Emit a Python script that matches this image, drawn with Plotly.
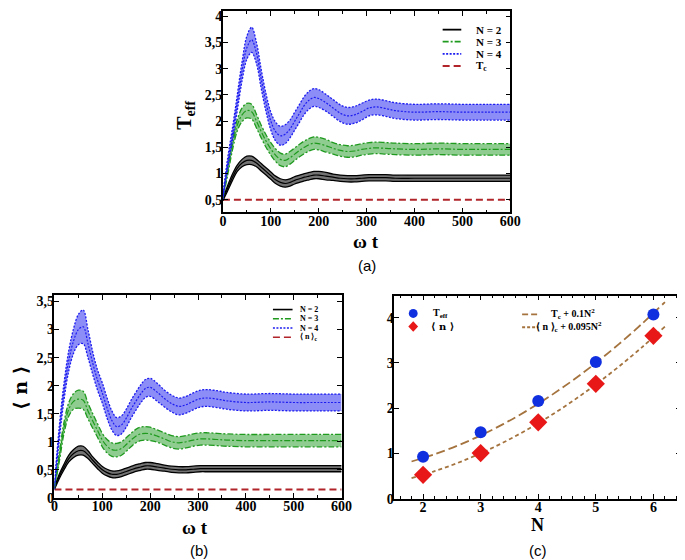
import plotly.graph_objects as go

W, H = 685, 560
def X(px): return px / W
def Y(py): return 1 - py / H

# ---------------- data ----------------
t = [0, 10, 20, 30, 40, 50, 60, 70, 80, 90, 100, 110, 120, 130, 140, 150, 160, 170, 180, 190,
     200, 215, 230, 245, 260, 275, 290, 305, 320, 340, 360, 400, 450, 500, 550, 600]

# (a) T_eff
teff_n2 = [0.5, 0.72, 0.93, 1.1, 1.2, 1.25, 1.25, 1.2, 1.12, 1.04, 0.96, 0.88, 0.83, 0.81, 0.83, 0.87, 0.9, 0.93, 0.95, 0.97,
           0.97, 0.95, 0.93, 0.91, 0.9, 0.9, 0.91, 0.92, 0.92, 0.92, 0.91, 0.91, 0.91, 0.91, 0.91, 0.91]
teff_n2_amp = [0.02, 0.05, 0.06, 0.06, 0.07, 0.08, 0.08, 0.07, 0.07, 0.07, 0.07, 0.07, 0.07, 0.07, 0.07, 0.07, 0.07, 0.07, 0.07, 0.07,
               0.07, 0.07, 0.06, 0.06, 0.06, 0.06, 0.06, 0.06, 0.06, 0.06, 0.06, 0.06, 0.06, 0.06, 0.06, 0.06]
teff_n3 = [0.55, 1.05, 1.55, 1.92, 2.12, 2.2, 2.18, 2.0, 1.8, 1.62, 1.47, 1.35, 1.27, 1.25, 1.3, 1.37, 1.44, 1.5, 1.55, 1.58,
           1.57, 1.53, 1.48, 1.44, 1.42, 1.43, 1.46, 1.48, 1.49, 1.48, 1.47, 1.46, 1.47, 1.46, 1.46, 1.46]
teff_n3_amp = [0.03, 0.08, 0.1, 0.11, 0.13, 0.14, 0.14, 0.13, 0.12, 0.12, 0.12, 0.12, 0.12, 0.12, 0.12, 0.12, 0.12, 0.12, 0.12, 0.12,
               0.12, 0.12, 0.11, 0.11, 0.11, 0.11, 0.11, 0.11, 0.11, 0.11, 0.11, 0.11, 0.11, 0.11, 0.11, 0.11]
teff_n4 = [0.55, 1.2, 1.75, 2.35, 2.95, 3.4, 3.55, 3.3, 2.8, 2.35, 2.0, 1.8, 1.72, 1.75, 1.85, 2.0, 2.15, 2.3, 2.4, 2.45,
           2.43, 2.35, 2.25, 2.15, 2.1, 2.12, 2.18, 2.25, 2.27, 2.24, 2.2, 2.17, 2.18, 2.17, 2.17, 2.17]
teff_n4_amp = [0.05, 0.1, 0.12, 0.15, 0.18, 0.22, 0.24, 0.2, 0.18, 0.17, 0.17, 0.18, 0.18, 0.18, 0.17, 0.17, 0.17, 0.17, 0.17, 0.17,
               0.17, 0.16, 0.16, 0.16, 0.16, 0.16, 0.16, 0.15, 0.15, 0.15, 0.15, 0.15, 0.15, 0.15, 0.15, 0.15]
t_c = 0.5

# (b) <n>
n_n2 = [0.17, 0.38, 0.55, 0.7, 0.79, 0.84, 0.84, 0.77, 0.67, 0.58, 0.5, 0.45, 0.42, 0.42, 0.44, 0.47, 0.5, 0.53, 0.55, 0.57,
        0.57, 0.55, 0.53, 0.51, 0.5, 0.5, 0.51, 0.52, 0.52, 0.52, 0.52, 0.52, 0.52, 0.52, 0.52, 0.52]
n_n2_amp = [0.02, 0.04, 0.05, 0.06, 0.07, 0.08, 0.08, 0.07, 0.06, 0.06, 0.06, 0.06, 0.06, 0.06, 0.06, 0.06, 0.06, 0.06, 0.06, 0.06,
            0.06, 0.06, 0.055, 0.055, 0.055, 0.055, 0.055, 0.055, 0.055, 0.055, 0.055, 0.055, 0.055, 0.055, 0.055, 0.055]
n_n3 = [0.2, 0.72, 1.25, 1.58, 1.72, 1.76, 1.74, 1.55, 1.37, 1.2, 1.03, 0.92, 0.86, 0.85, 0.88, 0.95, 1.03, 1.1, 1.14, 1.15,
        1.14, 1.1, 1.05, 1.0, 0.98, 1.0, 1.03, 1.05, 1.05, 1.04, 1.03, 1.02, 1.02, 1.02, 1.02, 1.02]
n_n3_amp = [0.03, 0.08, 0.1, 0.12, 0.14, 0.16, 0.16, 0.14, 0.13, 0.12, 0.12, 0.12, 0.12, 0.12, 0.12, 0.12, 0.12, 0.12, 0.12, 0.12,
            0.12, 0.11, 0.11, 0.11, 0.11, 0.11, 0.11, 0.11, 0.11, 0.11, 0.11, 0.11, 0.11, 0.11, 0.11, 0.11]
n_n4 = [0.2, 1.15, 1.9, 2.45, 2.8, 3.0, 3.05, 2.75, 2.4, 2.1, 1.87, 1.6, 1.38, 1.27, 1.3, 1.42, 1.58, 1.72, 1.85, 1.95,
        1.97, 1.88, 1.77, 1.68, 1.63, 1.66, 1.72, 1.77, 1.78, 1.76, 1.73, 1.7, 1.71, 1.7, 1.7, 1.7]
n_n4_amp = [0.05, 0.12, 0.15, 0.18, 0.22, 0.27, 0.3, 0.25, 0.2, 0.18, 0.18, 0.18, 0.17, 0.16, 0.16, 0.16, 0.16, 0.16, 0.16, 0.16,
            0.16, 0.16, 0.15, 0.15, 0.15, 0.15, 0.15, 0.15, 0.15, 0.15, 0.15, 0.15, 0.15, 0.15, 0.15, 0.15]
n_c = 0.15

# (c) scaling with N
N_vals = [2, 3, 4, 5, 6]
teff_ss = [0.93, 1.47, 2.16, 3.02, 4.07]
n_ss = [0.53, 1.01, 1.69, 2.54, 3.6]
fit_N = [1.8, 2.2, 2.6, 3.0, 3.4, 3.8, 4.2, 4.6, 5.0, 5.4, 5.8, 6.2]
fit_teff = [0.824, 0.984, 1.176, 1.4, 1.656, 1.944, 2.264, 2.616, 3.0, 3.416, 3.864, 4.344]
fit_n = [0.458, 0.610, 0.792, 1.005, 1.248, 1.522, 1.826, 2.160, 2.525, 2.920, 3.346, 3.802]

xt = [0, 100, 200, 300, 400, 500, 600]
ya_vals = [0.5, 1, 1.5, 2, 2.5, 3, 3.5, 4]
ya_txt = ["0,5", "1", "1,5", "2", "2,5", "3", "3,5", "4"]
yb_vals = [0, 0.5, 1, 1.5, 2, 2.5, 3, 3.5]
yb_txt = ["0", "0,5", "1", "1,5", "2", "2,5", "3", "3,5"]
xc_vals = [2, 3, 4, 5, 6]
yc_vals = [0, 1, 2, 3, 4]

# ---------------- styles ----------------
BLACK = "#000000"
GREEN = "#1f9a1f"
BLUE = "#1c1cf0"
RED = "#b0242a"
BROWN = "#a4733e"
SERIF = "Liberation Serif"
SANS = "Liberation Sans"

def rgba(hexc, a):
    h = hexc.lstrip("#")
    return "rgba(%d,%d,%d,%.2f)" % (int(h[0:2], 16), int(h[2:4], 16), int(h[4:6], 16), a)

fig = go.Figure()

def band(xa, ya, center, amp, color, dash, alpha):
    lo = [c - a for c, a in zip(center, amp)]
    hi = [c + a for c, a in zip(center, amp)]
    fig.add_trace(go.Scatter(x=t, y=lo, mode="lines", xaxis=xa, yaxis=ya, showlegend=False,
                             line=dict(color=color, width=1.3, dash=dash, shape="spline")))
    fig.add_trace(go.Scatter(x=t, y=hi, mode="lines", xaxis=xa, yaxis=ya, showlegend=False,
                             fill="tonexty", fillcolor=rgba(color, alpha),
                             line=dict(color=color, width=1.3, dash=dash, shape="spline")))
    fig.add_trace(go.Scatter(x=t, y=center, mode="lines", xaxis=xa, yaxis=ya, showlegend=False,
                             line=dict(color=color, width=1.2, dash=dash, shape="spline")))

DASH3 = "6px,2px,2px,2px"
DASH4 = "2px,1.5px"
DASHC = "7px,4px"

# (a)
fig.add_trace(go.Scatter(x=[t[0], t[-1]], y=[t_c, t_c], mode="lines", xaxis="x", yaxis="y", showlegend=False,
                         line=dict(color=RED, width=2, dash=DASHC)))
band("x", "y", teff_n2, teff_n2_amp, BLACK, "solid", 0.55)
band("x", "y", teff_n3, teff_n3_amp, GREEN, DASH3, 0.5)
band("x", "y", teff_n4, teff_n4_amp, BLUE, DASH4, 0.5)

# (b)
fig.add_trace(go.Scatter(x=[t[0], t[-1]], y=[n_c, n_c], mode="lines", xaxis="x2", yaxis="y2", showlegend=False,
                         line=dict(color=RED, width=2, dash=DASHC)))
band("x2", "y2", n_n2, n_n2_amp, BLACK, "solid", 0.55)
band("x2", "y2", n_n3, n_n3_amp, GREEN, DASH3, 0.5)
band("x2", "y2", n_n4, n_n4_amp, BLUE, DASH4, 0.5)

# (c)
fig.add_trace(go.Scatter(x=fit_N, y=fit_teff, mode="lines", xaxis="x3", yaxis="y3", showlegend=False,
                         line=dict(color=BROWN, width=1.8, dash="9px,4px", shape="spline")))
fig.add_trace(go.Scatter(x=fit_N, y=fit_n, mode="lines", xaxis="x3", yaxis="y3", showlegend=False,
                         line=dict(color=BROWN, width=1.8, dash="4px,3px", shape="spline")))
fig.add_trace(go.Scatter(x=N_vals, y=teff_ss, mode="markers", xaxis="x3", yaxis="y3", showlegend=False,
                         marker=dict(symbol="circle", size=12, color="#1030e0")))
fig.add_trace(go.Scatter(x=N_vals, y=n_ss, mode="markers", xaxis="x3", yaxis="y3", showlegend=False,
                         marker=dict(symbol="diamond", size=14, color="#e81818")))

tickfont = dict(family=SERIF, size=14, color="black")
def ax(domain, rng, tickvals, ticktext, minor_dtick=None, anchor=None, standoff=-5):
    d = dict(domain=domain, range=rng, tickmode="array", tickvals=tickvals,
             ticktext=["<b>%s</b>" % s for s in ticktext],
             showline=True, linecolor="black", linewidth=1.5, mirror="ticks",
             ticks="inside", ticklen=5, tickwidth=1.2, tickcolor="black",
             showgrid=False, zeroline=False, tickfont=tickfont, anchor=anchor,
             ticklabelstandoff=standoff)
    if minor_dtick:
        d["minor"] = dict(dtick=minor_dtick, ticks="inside", ticklen=3, tickcolor="black", tickwidth=1, showgrid=False)
    return d

fig.update_layout(
    width=W, height=H, margin=dict(l=0, r=0, t=0, b=0),
    paper_bgcolor="white", plot_bgcolor="white", showlegend=False,
    xaxis=ax([X(216), X(509)], [0, 600], xt, [str(v) for v in xt], 50, "y"),
    yaxis=ax([Y(206), Y(1)], [0.26, 4.1], ya_vals, ya_txt, None, "x", -4),
    xaxis2=ax([X(44.3), X(337)], [0, 600], xt, [str(v) for v in xt], 50, "y2"),
    yaxis2=ax([Y(496.7), Y(290)], [0, 3.62], yb_vals, yb_txt, None, "x2", -4),
    xaxis3=ax([X(390.7), X(683)], [1.5, 6.48], xc_vals, [str(v) for v in xc_vals], 0.2, "y3"),
    yaxis3=ax([Y(497.7), Y(290.7)], [0, 4.49], yc_vals, [str(v) for v in yc_vals], None, "x3", -4),
)

ann = []
def text(px, py, s, size, family=SERIF, bold=True, angle=0, xanchor="center"):
    ann.append(dict(x=X(px), y=Y(py), xref="paper", yref="paper",
                    text=("<b>%s</b>" % s) if bold else s, showarrow=False,
                    xanchor=xanchor, yanchor="middle", textangle=angle,
                    font=dict(family=family, size=size, color="black")))

# axis titles and panel labels
text(362, 236, "ω t", 19)
text(177, 107, "T<sub>eff</sub>", 20, angle=-90)
text(363, 260, "(a)", 15, family=SANS, bold=False)
text(188, 527, "ω t", 19)
text(9, 385, "⟨ n ⟩", 19, family="DejaVu Serif", angle=-90)
text(192, 550, "(b)", 15, family=SANS, bold=False)
text(537, 524, "N", 18)
text(537, 550, "(c)", 15, family=SANS, bold=False)

shapes = []
def lg_line(x0, x1, py, color, dash, width=1.8):
    shapes.append(dict(type="line", xref="paper", yref="paper", x0=X(x0), x1=X(x1), y0=Y(py), y1=Y(py),
                       line=dict(color=color, width=width, dash=dash)))

styles = [(BLACK, "solid"), (GREEN, DASH3), (BLUE, DASH4), (RED, DASHC)]

# legend (a)
rows_a = [20, 32.3, 44.6, 57]
labels_a = ["N = 2", "N = 3", "N = 4", "T<sub>c</sub>"]
for r, lab, (c, d) in zip(rows_a, labels_a, styles):
    lg_line(440, 459, r, c, d)
    text(472, r, lab, 11, xanchor="left")

# legend (b)
rows_b = [305, 314.4, 323.8, 333.2]
labels_b = ["N = 2", "N = 3", "N = 4", "⟨ n ⟩<sub>c</sub>"]
for r, lab, (c, d) in zip(rows_b, labels_b, styles):
    lg_line(267, 287, r, c, d, 1.6)
    text(293, r, lab, 8, xanchor="left")

# legend (c)
shapes.append(dict(type="circle", xref="paper", yref="paper", x0=X(405.5), x1=X(414.5), y0=Y(304.5), y1=Y(313.5),
                   fillcolor="#1030e0", line=dict(width=0)))
shapes.append(dict(type="path", xref="paper", yref="paper",
                   path="M %f %f L %f %f L %f %f L %f %f Z" % (X(410), Y(317), X(415), Y(322.3), X(410), Y(327.6), X(405), Y(322.3)),
                   fillcolor="#e81818", line=dict(width=0)))
text(428, 309.5, "T<sub>eff</sub>", 10, xanchor="left")
text(426, 322.5, "⟨ n ⟩", 10, family="DejaVu Serif", xanchor="left")
lg_line(521, 538, 310, BROWN, "6px,3px")
lg_line(521, 538, 323, BROWN, "3px,2px")
text(548, 310, "T<sub>c</sub> + 0.1N<sup>2</sup>", 10, xanchor="left")
text(533, 323, "⟨ n ⟩<sub>c</sub> + 0.095N<sup>2</sup>", 10, xanchor="left")

fig.update_layout(annotations=ann, shapes=shapes)
fig.write_html("out.html")
